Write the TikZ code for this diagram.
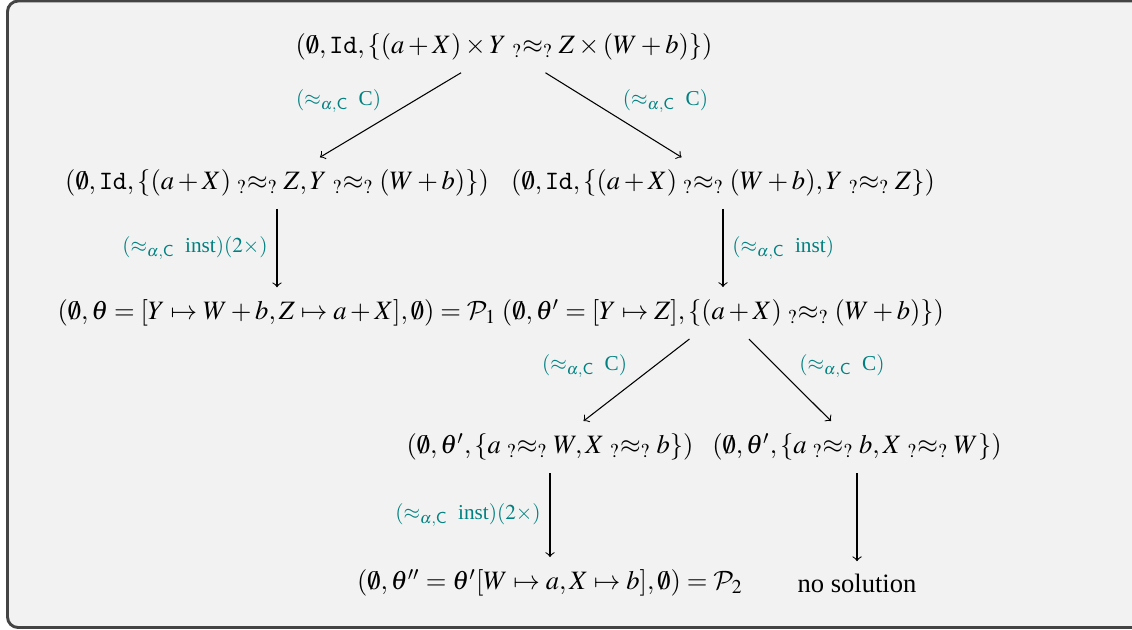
\documentclass[tikz,border=0pt]{standalone}
\usepackage{amsmath}
\usepackage{mathptmx}
\usepackage[no-math]{fontspec}
\setmainfont{Liberation Serif}
\usepackage{xcolor}
\usepackage{tikz}

\DeclareMathAlphabet{\mathcal}{OMS}{cmsy}{m}{n}

\definecolor{verdeazul}{RGB}{0,128,128}
\definecolor{marco}{RGB}{68,68,68}
\definecolor{fondo}{RGB}{242,242,242}

\newcommand{\unif}{\mathrel{{}_{?}{\approx}_{?}}}
\newcommand{\acr}[1]{(\approx_{\alpha,\mathsf{C}}\ \text{#1})}

\begin{document}
\begin{tikzpicture}[x=0.3767pt,y=-0.3767pt,
  estado/.style={inner xsep=3.3pt, inner ysep=4.5pt},
  regla/.style={text=verdeazul,font=\footnotesize},
  diag/.style={regla, yshift=-2.6pt}]

% Marco
\useasboundingbox (0,0) rectangle (1132,629);
\draw[line width=1.1pt, draw=marco, fill=fondo, rounded corners=4pt] (7.5,1) rectangle (1145,627.5);

% Nodos
\node[estado] (raiz) at (504,47) {$(\emptyset,\mathtt{Id},\{(a+X)\times Y \unif Z\times(W+b)\})$};
\node[estado] (izq) at (277,183) {$(\emptyset,\mathtt{Id},\{(a+X)\unif Z, Y\unif (W+b)\})$};
\node[estado] (der) at (723,183) {$(\emptyset,\mathtt{Id},\{(a+X)\unif (W+b), Y\unif Z\})$};
\node[estado] (pa) at (277,313) {$(\emptyset,\theta=[Y\mapsto W+b, Z\mapsto a+X],\emptyset)=\mathcal{P}_1$};
\node[estado] (pb) at (723,313) {$(\emptyset,\theta'=[Y\mapsto Z],\{(a+X)\unif (W+b)\})$};
\node[estado] (ca) at (550,447) {$(\emptyset,\theta',\{a\unif W, X\unif b\})$};
\node[estado] (cb) at (857,447) {$(\emptyset,\theta',\{a\unif b, X\unif W\})$};
\node[estado] (pc) at (550,583) {$(\emptyset,\theta''=\theta'[W\mapsto a, X\mapsto b],\emptyset)=\mathcal{P}_2$};
\node[estado] (sin) at (857,583) {no solution};

% Flechas
\draw[->] (raiz) -- node[diag, above left] {$\acr{C}$} (izq);
\draw[->] (raiz) -- node[diag, above right] {$\acr{C}$} (der);
\draw[->] (izq) -- node[regla, left] {$\acr{inst}(2\times)$} (pa);
\draw[->] (der) -- node[regla, right] {$\acr{inst}$} (pb);
\draw[->] (pb) -- node[diag, above left] {$\acr{C}$} (ca);
\draw[->] (pb) -- node[diag, above right] {$\acr{C}$} (cb);
\draw[->] (ca) -- node[regla, left] {$\acr{inst}(2\times)$} (pc);
\draw[->] (cb) -- (sin);

\end{tikzpicture}
\end{document}
